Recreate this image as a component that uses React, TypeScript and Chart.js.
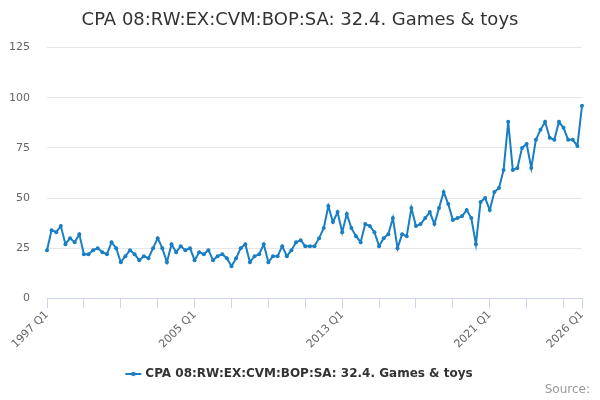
import React, { useEffect, useRef } from "react"
import { Chart, registerables } from "chart.js"

Chart.register(...registerables)

const title = "CPA 08:RW:EX:CVM:BOP:SA: 32.4. Games & toys"
const startYear = 1997
const endYear = 2026

// quarterly values, 1997 Q1 .. 2026 Q1
const values = [
  24, 34, 33, 36, 27, 30, 28, 32, 22, 22, 24, 25, 23, 22, 28, 25, 18, 21, 24, 22,
  19, 21, 20, 25, 30, 25, 18, 27, 23, 26, 24, 25, 19, 23, 22, 24, 19, 21, 22, 20,
  16, 20, 25, 27, 18, 21, 22, 27, 18, 21, 21, 26, 21, 24, 28, 29, 26, 26, 26, 30,
  35, 46, 38, 43, 33, 42, 35, 31, 28, 37, 36, 33, 26, 30, 32, 40, 25, 32, 31, 45,
  36, 37, 40, 43, 37, 45, 53, 47, 39, 40, 41, 44, 40, 27, 48, 50, 44, 53, 55, 64,
  88, 64, 65, 75, 77, 65, 79, 84, 88, 80, 79, 88, 85, 79, 79, 76, 96,
]

const yTicks = [0, 25, 50, 75, 100, 125]

const labels: string[] = []
for (let y = startYear; y <= endYear; y++) {
  for (let q = 1; q <= 4; q++) {
    if (y === endYear && q > 1) break
    labels.push(`${y} Q${q}`)
  }
}

const lineColor = "#1a7ec2"
const font = "'DejaVu Sans', Verdana, sans-serif"

function legendSymbol() {
  const c = document.createElement("canvas")
  c.width = 18
  c.height = 8
  const ctx = c.getContext("2d")!
  ctx.strokeStyle = lineColor
  ctx.lineWidth = 2
  ctx.beginPath()
  ctx.moveTo(1, 4)
  ctx.lineTo(17, 4)
  ctx.stroke()
  ctx.fillStyle = lineColor
  ctx.beginPath()
  ctx.arc(9, 4, 2.2, 0, Math.PI * 2)
  ctx.fill()
  return c
}

const sourcePlugin = {
  id: "source",
  afterDraw(chart: Chart) {
    const ctx = chart.ctx
    ctx.save()
    ctx.font = `12px ${font}`
    ctx.fillStyle = "#999999"
    ctx.textAlign = "right"
    ctx.textBaseline = "middle"
    ctx.fillText("Source:", chart.width - 10, 390)
    ctx.restore()
  },
}

export default function App() {
  const ref = useRef<HTMLCanvasElement>(null)

  useEffect(() => {
    document.body.style.margin = "0"
    let chart: Chart | null = null
    if (ref.current) {
      const symbol = legendSymbol()
      const last = labels.length - 1
      chart = new Chart(ref.current, {
        type: "line",
        data: {
          labels,
          datasets: [
            {
              label: title,
              data: values,
              borderColor: lineColor,
              backgroundColor: lineColor,
              borderWidth: 2,
              pointRadius: 2,
              pointBorderWidth: 0,
              pointHoverRadius: 3,
              tension: 0,
            },
          ],
        },
        options: {
          animation: false,
          responsive: false,
          layout: { padding: { left: 8, right: 8, top: 4, bottom: 10 } },
          plugins: {
            title: {
              display: true,
              text: title,
              color: "#333333",
              font: { family: font, size: 18, weight: "normal" },
              padding: { top: 6, bottom: 16 },
            },
            legend: {
              position: "bottom",
              labels: {
                color: "#333333",
                font: { family: font, size: 12, weight: "bold" },
                usePointStyle: true,
                generateLabels: (c: Chart) =>
                  Chart.defaults.plugins.legend.labels
                    .generateLabels(c)
                    .map((l: any) => ({ ...l, pointStyle: symbol })),
              },
            },
            tooltip: { enabled: false },
          },
          scales: {
            x: {
              type: "category",
              offset: false,
              afterFit: (axis: any) => {
                axis.paddingLeft = 0
                axis.paddingRight = 18
                axis.height += 7
              },
              grid: {
                drawOnChartArea: false,
                drawTicks: true,
                tickLength: 10,
                tickColor: (ctx: any) =>
                  ctx.index % 8 === 0 || ctx.index === last ? "#ccd6eb" : "rgba(0,0,0,0)",
              },
              border: { color: "#ccd6eb" },
              ticks: {
                autoSkip: false,
                maxRotation: 45,
                minRotation: 45,
                color: "#666666",
                font: { family: font, size: 11 },
                padding: 0,
                callback: (_v: any, i: number) =>
                  i % 32 === 0 || i === last ? labels[i] : "",
              },
            },
            y: {
              min: 0,
              max: 125,
              afterBuildTicks: (axis: any) => {
                axis.ticks = yTicks.map((v) => ({ value: v }))
              },
              afterFit: (axis: any) => {
                axis.width = 39
              },
              grid: { color: "#e6e6e6", drawTicks: false },
              border: { display: false },
              ticks: {
                color: "#666666",
                font: { family: font, size: 11 },
                padding: 17,
              },
            },
          },
        },
        plugins: [sourcePlugin],
      })
    }
    return () => {
      chart?.destroy()
    }
  }, [])

  return <canvas ref={ref} width={600} height={400} />
}
